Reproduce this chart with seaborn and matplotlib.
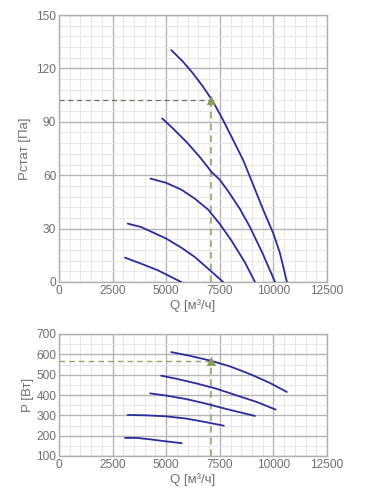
import numpy as np
import pandas as pd
import matplotlib
matplotlib.use("Agg")
import matplotlib.pyplot as plt
from matplotlib.ticker import MultipleLocator
import seaborn as sns

# ---- data ----
q1 = [5234, 5781, 6250, 6719, 7187, 7656, 8125, 8594, 8906, 9530, 9996, 10308, 10630]
p1 = [130.3, 123.8, 117.2, 109.7, 101.3, 90.9, 79.7, 68.4, 59.1, 40.4, 27.3, 16.1, 0]
q2 = [4812, 5312, 5937, 6562, 7109, 7500, 7890, 8440, 8900, 9500, 10075]
p2 = [91.9, 86.3, 78.8, 70.3, 61.9, 57.4, 51.0, 41.0, 31.0, 16.0, 0]
q3 = [4266, 5000, 5703, 6328, 6953, 7500, 8047, 8672, 9142]
p3 = [58.1, 55.7, 51.9, 46.9, 40.7, 32.6, 23.2, 11.0, 0]
q4 = [3203, 3828, 5000, 5703, 6328, 6953, 7656]
p4 = [32.8, 30.9, 24.4, 19.3, 14.1, 7.5, 0]
q5 = [3078, 3828, 4609, 5234, 5703]
p5 = [13.7, 10.3, 6.6, 2.8, 0]

w1q = [5234, 6094, 7031, 7969, 8906, 9844, 10625]
w1 = [611, 593, 570, 541, 503, 459, 415]
w2q = [4766, 5469, 6406, 7344, 8281, 9219, 10109]
w2 = [495, 480, 457, 431, 398, 366, 328]
w3q = [4250, 5000, 5937, 6875, 7812, 9141]
w3 = [408, 397, 380, 357, 331, 297]
w4q = [3203, 4062, 5000, 5937, 6875, 7687]
w4 = [302, 300, 295, 284, 266, 249]
w5q = [3078, 3622, 4244, 5000, 5722]
w5 = [189, 189, 182, 172, 163]

op_q = 7110
op_p = 102
op_w = 566

x_ticks = [0, 2500, 5000, 7500, 10000, 12500]
y1_ticks = [0, 30, 60, 90, 120, 150]
y2_ticks = [100, 200, 300, 400, 500, 600, 700]

sns.set_theme(style="white")
plt.rcParams['font.family'] = ['Liberation Sans', 'DejaVu Sans']

line_col = '#2c2c9a'
grey = '#6f6f6f'
olive = '#9ba46e'
dark_dash = '#707064'

fig = plt.figure(figsize=(3.7, 5.0), dpi=100)
ax1 = fig.add_axes([59/370, 218/500, 268/370, 267/500])
ax2 = fig.add_axes([59/370, 44/500, 268/370, 122/500])

top_curves = [(q1, p1), (q2, p2), (q3, p3), (q4, p4), (q5, p5)]
bot_curves = [(w1q, w1), (w2q, w2), (w3q, w3), (w4q, w4), (w5q, w5)]

for qq, pp in top_curves:
    sns.lineplot(x=qq, y=pp, ax=ax1, color=line_col, lw=1.3, sort=False, zorder=3)
for qq, pp in bot_curves:
    sns.lineplot(x=qq, y=pp, ax=ax2, color=line_col, lw=1.3, sort=False, zorder=3)

# operating point
ax1.plot([0, op_q], [op_p, op_p], ls=(0, (4, 3)), color=dark_dash, lw=0.9, zorder=2)
ax1.plot([op_q, op_q], [0, op_p], ls=(0, (4, 3)), color=olive, lw=1.2, zorder=2)
sns.scatterplot(x=[op_q], y=[op_p], ax=ax1, marker='^', color='#8c9a5a', s=45, zorder=4, edgecolor='none')
ax2.plot([0, op_q], [op_w, op_w], ls=(0, (4, 3)), color=olive, lw=1.0, zorder=2)
ax2.plot([op_q, op_q], [100, op_w], ls=(0, (4, 3)), color=olive, lw=1.2, zorder=2)
sns.scatterplot(x=[op_q], y=[op_w], ax=ax2, marker='^', color='#8c9a5a', s=45, zorder=4, edgecolor='none')

for ax, yt, ymin, ymax, yminor in [(ax1, y1_ticks, 0, 150, 6), (ax2, y2_ticks, 100, 700, 50)]:
    ax.set_xlim(0, 12500)
    ax.set_ylim(ymin, ymax)
    ax.set_xticks(x_ticks)
    ax.set_yticks(yt)
    ax.xaxis.set_minor_locator(MultipleLocator(500))
    ax.yaxis.set_minor_locator(MultipleLocator(yminor))
    ax.grid(which='major', color='#b5b5b5', lw=1.0)
    ax.grid(which='minor', color='#e8e8e8', lw=0.8)
    ax.set_axisbelow(True)
    for s in ax.spines.values():
        s.set_color('#b0b0b0')
        s.set_linewidth(1.0)
    ax.tick_params(which='both', length=0, labelsize=8.6, labelcolor=grey, pad=2)
    ax.set_xlabel('Q [м³/ч]', fontsize=9.5, color=grey, labelpad=2)

ax1.set_ylabel('Pстат [Па]', fontsize=9.5, color=grey, labelpad=4)
ax2.set_ylabel('P [Вт]', fontsize=9.5, color=grey, labelpad=2)

fig.savefig('out.png', dpi=100, facecolor='white')
